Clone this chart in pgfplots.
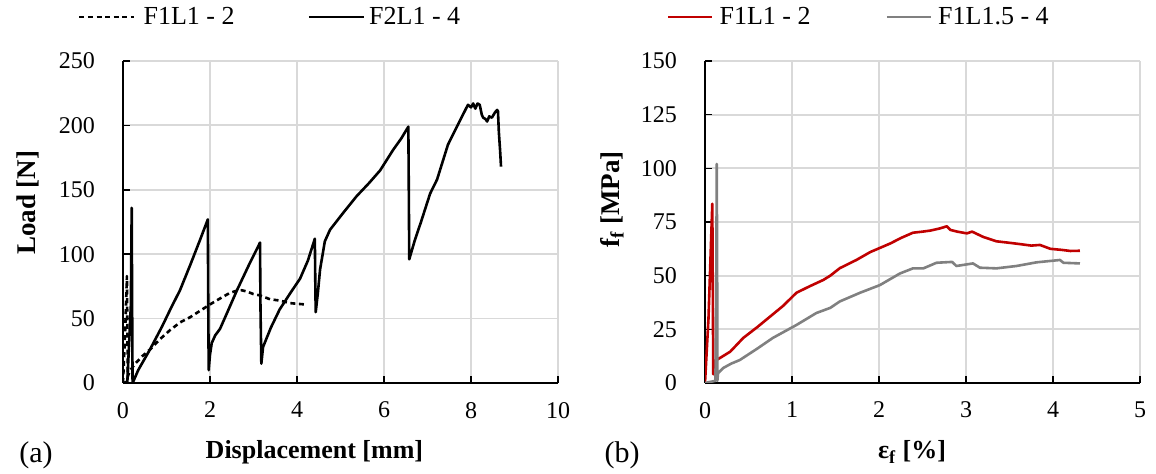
\documentclass[border=0pt]{standalone}
\usepackage{fontspec}
\setmainfont{Liberation Serif}
\usepackage{pgfplots}
\pgfplotsset{compat=1.18}

\definecolor{gridgray}{RGB}{217,217,217}
\definecolor{darkred}{RGB}{192,0,0}
\definecolor{midgray}{RGB}{128,128,128}

\pgfplotsset{
  myaxis/.style={
    scale only axis, width=217.5pt, height=161pt,
    axis x line*=bottom, axis y line*=left,
    axis line style={black, line width=0.75pt, -},
    grid=major, major grid style={gridgray, line width=0.9pt},
    tick align=inside, major tick length=3.5pt, tick style={black, line width=0.75pt},
    /pgf/number format/assume math mode=true,
    ticklabel style={font=\fontsize{12}{14}\selectfont},
    xticklabel style={yshift=-6pt},
    yticklabel style={xshift=-10.5pt},
    legend columns=2,
    legend style={draw=none, fill=none, inner sep=0pt, outer sep=0pt, nodes={inner sep=0pt, outer sep=0pt},
      font=\fontsize{13}{15}\selectfont, anchor=west},
    xlabel style={at={(axis description cs:0.44,-0.214)}, anchor=center, font=\fontsize{13}{16}\selectfont\bfseries},
    ylabel style={at={(axis description cs:-0.218,0.56)}, anchor=center, font=\fontsize{13.5}{16}\selectfont\bfseries},
  }
}

\begin{document}
\begin{tikzpicture}
\useasboundingbox (0,0) rectangle (578pt,237pt);
\begin{axis}[myaxis, at={(61.5pt,45.5pt)}, anchor=south west,
  xmin=0, xmax=10, ymin=0, ymax=250,
  xtick={0,2,4,6,8,10}, ytick={0,50,100,150,200,250},
  xlabel={Displacement [mm]}, ylabel={Load [N]},
  legend image code/.code={\draw[#1] (0pt,0pt) -- (27.5pt,0pt);},
  legend style={at={(-0.1034,1.1366)}}]
\addplot[black, line width=1.3pt, line join=round, dash pattern=on 2.5pt off 1.8pt] coordinates {
(0,0) (0.05,40) (0.09,83) (0.11,5) (0.15,9) (0.28,15) (0.45,21) (0.62,26) (0.85,34) (1.08,41) (1.31,47) (1.54,51) (1.77,56) (2.0,61) (2.25,66) (2.46,70) (2.6,71.5) (2.73,72) (2.85,71) (3.0,69) (3.15,68) (3.38,65) (3.6,64) (3.84,62) (4.0,61.5) (4.18,61)
};
\addlegendentry{\hspace*{4pt}F1L1 - 2\hspace*{36.5pt}}
\addplot[black, line width=1.3pt, line join=round] coordinates {
(0,0) (0.1,1) (0.18,60) (0.2,136) (0.21,60) (0.22,0) (0.26,3) (0.35,10) (0.62,26) (0.9,44) (1.1,58) (1.31,72) (1.55,92) (1.77,111) (1.95,127) (1.96,60) (1.97,10) (2.0,22) (2.04,31) (2.12,37) (2.23,42) (2.4,55) (2.62,72) (2.9,92) (3.15,109) (3.16,60) (3.18,15) (3.22,28) (3.4,43) (3.6,57) (3.85,70) (4.07,81) (4.25,95) (4.41,112) (4.42,80) (4.43,55) (4.48,70) (4.53,88) (4.64,110) (4.76,119) (5.06,132) (5.37,145) (5.65,155) (5.91,165) (6.21,181) (6.4,190) (6.56,199) (6.57,150) (6.58,96) (6.71,111) (6.85,125) (7.06,147) (7.22,158) (7.47,185) (7.75,204) (7.93,216) (8.0,214) (8.05,217) (8.1,213) (8.15,217) (8.2,216) (8.25,208) (8.28,206) (8.33,205) (8.37,203) (8.42,207) (8.48,206) (8.55,210) (8.6,212) (8.62,211) (8.64,195) (8.67,180) (8.69,168)
};
\addlegendentry{\hspace*{2pt}F2L1 - 4}
\end{axis}
\begin{axis}[myaxis, at={(352.5pt,45.5pt)}, anchor=south west,
  xmin=0, xmax=5, ymin=0, ymax=150,
  xtick={0,1,2,3,4,5}, ytick={0,25,50,75,100,125,150},
  xlabel={ε\textsubscript{f} [\%]}, ylabel={f\textsubscript{f} [MPa]},
  xlabel style={at={(axis description cs:0.476,-0.214)}},
  ylabel style={at={(axis description cs:-0.214,0.57)}},
  legend image code/.code={\draw[#1] (0pt,0pt) -- (22pt,0pt);},
  legend style={at={(-0.0874,1.1366)}}]
\addplot[darkred, line width=1.3pt, line join=round] coordinates {
(0,0) (0.04,30) (0.084,83.5) (0.09,40) (0.095,4) (0.1,10) (0.17,11.6) (0.29,14.6) (0.44,21) (0.6,26) (0.75,31) (0.9,36) (1.05,42) (1.2,45) (1.36,48) (1.44,50) (1.55,53.5) (1.74,57.3) (1.9,61) (2.13,65) (2.25,67.5) (2.39,70) (2.5,70.5) (2.59,71) (2.7,72) (2.78,73) (2.82,71.3) (2.9,70.5) (3.01,69.7) (3.07,70.5) (3.2,68) (3.35,66) (3.5,65.3) (3.62,64.7) (3.75,64) (3.85,64.3) (3.97,62.5) (4.1,62) (4.2,61.5) (4.31,61.6)
};
\addlegendentry{\hspace*{3pt}F1L1 - 2\hspace*{37.5pt}}
\addplot[midgray, line width=1.3pt, line join=round] coordinates {
(0,0) (0.06,0.5) (0.12,1) (0.13,50) (0.135,102) (0.14,50) (0.142,1) (0.15,4.6) (0.21,7) (0.3,9) (0.4,10.7) (0.6,16) (0.78,21) (1.05,27) (1.28,32.6) (1.44,35) (1.55,38) (1.78,42) (2.01,45.6) (2.24,51) (2.39,53.4) (2.51,53.4) (2.66,56) (2.84,56.4) (2.89,54.5) (3.08,55.7) (3.16,53.7) (3.35,53.4) (3.58,54.5) (3.81,56.2) (4.08,57.3) (4.12,56) (4.31,55.7)
};
\addlegendentry{\hspace*{3pt}F1L1.5 - 4}
\end{axis}
\node[font=\fontsize{15}{17}\selectfont] at (18pt,9.5pt) {(a)};
\node[font=\fontsize{15}{17}\selectfont] at (311pt,9.5pt) {(b)};
\end{tikzpicture}
\end{document}
